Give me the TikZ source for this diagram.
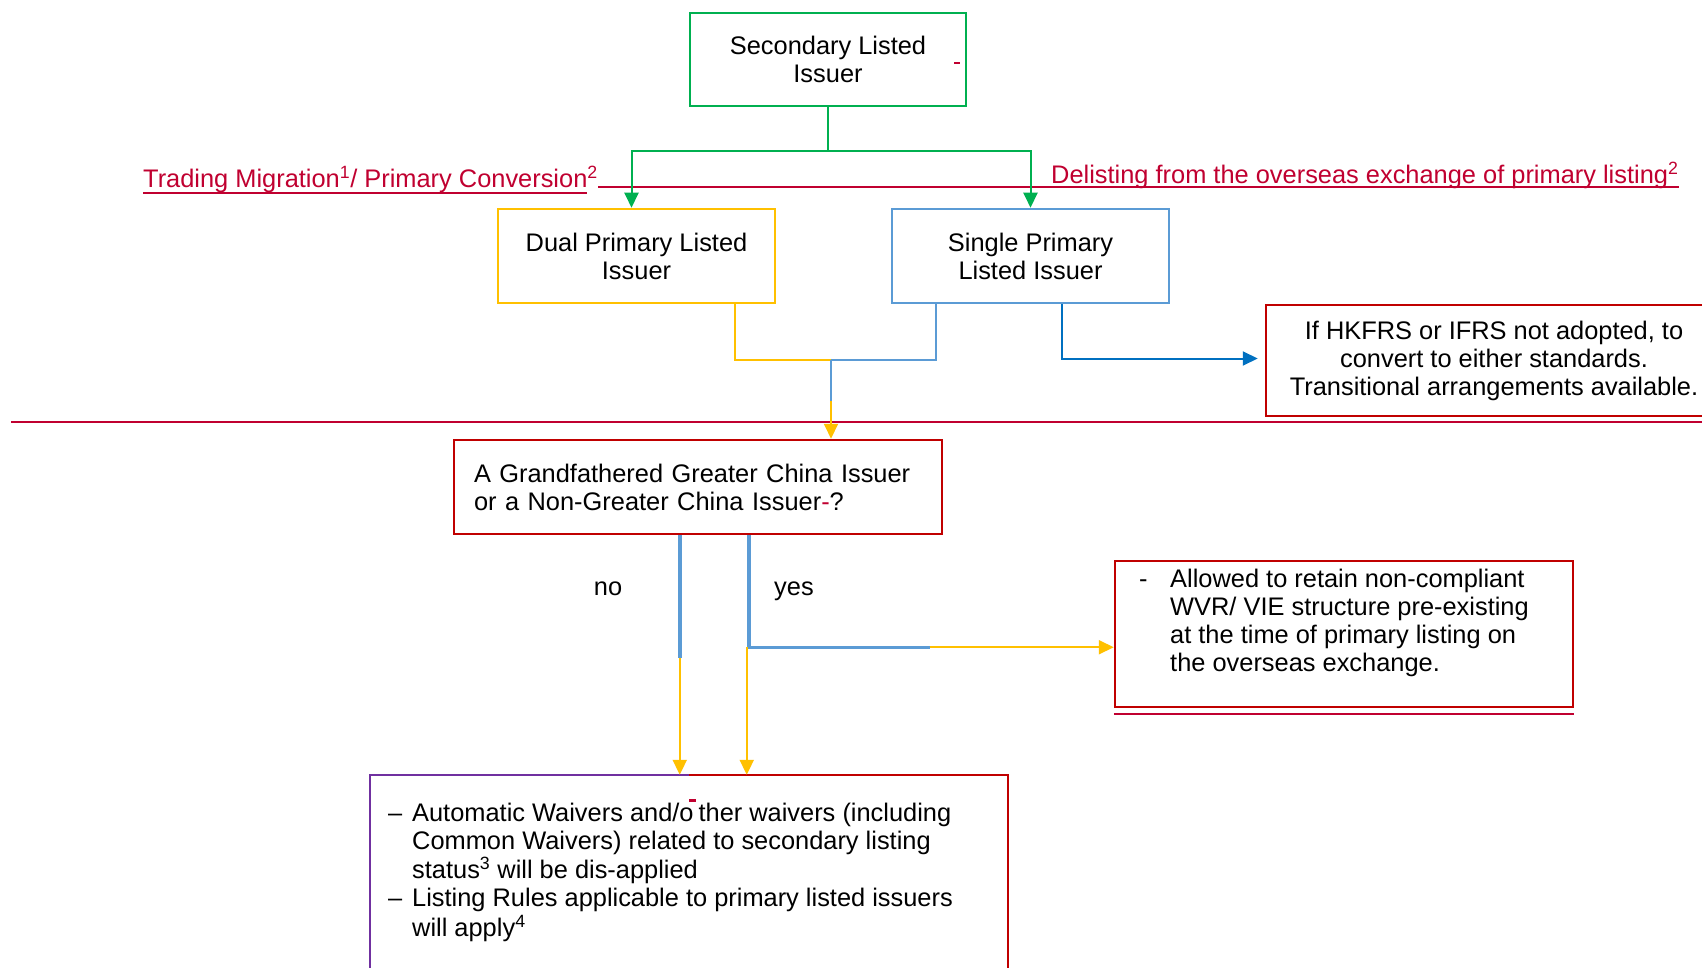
\documentclass[tikz,border=0pt]{standalone}
\usepackage{fontspec}
\setmainfont{Liberation Sans}
\usepackage{tikz}
\usetikzlibrary{positioning,arrows.meta,calc}
\definecolor{colorgreen}    {RGB}{0  ,176,80 }
\definecolor{coloryellow}   {RGB}{255,192,0  }
\definecolor{colorblue}     {RGB}{91 ,155,213}
\definecolor{colordarkblue} {RGB}{0  ,112,192}
\definecolor{colorbox}      {RGB}{192,0  ,0  }
\definecolor{colorlabel}    {RGB}{192,0  ,48 }
\definecolor{colorpurple}   {RGB}{112,48 ,160}
\newsavebox{\ulbox}
\newcommand{\redul}[1]{\sbox{\ulbox}{#1}\rlap{\rule[-5.8pt]{\wd\ulbox}{1.8pt}}\usebox{\ulbox}}

\begin{document}
\begin{tikzpicture}[
    x=1pt, y=-1pt,
    font={\fontsize{25.4}{28}\selectfont},
    box/.style={draw, line width=2.5pt, minimum width=277pt, minimum height=94pt, inner sep=0pt, align=center},
    redlabel/.style={text=colorlabel, inner sep=0pt},
    link/.style={line width=2pt},
    thick link/.style={line width=3.5pt},
    arrowed/.style={line width=2pt, -{Triangle[width=14pt,length=15pt]}},
]
    \useasboundingbox (0,0) rectangle (1702,968);
    \clip (0,0) rectangle (1702,968);

    \node[box, draw=colorgreen, minimum width=276pt, minimum height=93pt] (secondary) at (828,59.5) {Secondary Listed\\Issuer};
    \node[box, draw=coloryellow] (dual) at (636.5,256) {Dual Primary Listed\\Issuer};
    \node[box, draw=colorblue] (single) at (1030.5,256) {Single Primary\\Listed Issuer};
    \node[box, draw=colorbox, minimum width=456pt, minimum height=111pt] (hkfrs) at (1494,360.5) {If HKFRS or IFRS not adopted, to\\convert to either standards.\\Transitional arrangements available.};
    \node[box, draw=colorbox, minimum width=488pt, minimum height=94pt, text width=448pt, align=left] (grandfathered) at (698,487) {A Grandfathered Greater China Issuer\\or a Non-Greater China Issuer\textcolor{colorlabel}{-}?};
    \node[box, draw=colorbox, minimum width=458pt, minimum height=146pt] (allowed) at (1344,634) {};
    \node[anchor=base west, inner sep=0pt] (allowedtext) at (1139,587) {\begin{tabular}[t]{@{}p{31pt}@{}l@{}}
    -&Allowed to retain non-compliant\\
    &WVR/ VIE structure pre-existing\\
    &at the time of primary listing on\\
    &the overseas exchange.
    \end{tabular}};
    \node[minimum width=638pt, minimum height=210pt, inner sep=0pt] (waivers) at (689,880) {};
    \node[anchor=base west, inner sep=0pt] (waiverstext) at (388,821) {\begin{tabular}[t]{@{}p{24pt}@{}l@{}}
    \textendash&Automatic Waivers and/o\hspace{5pt}ther waivers (including\\
    &Common Waivers) related to secondary listing\\
    &status\textsuperscript{3} will be dis-applied\\
    \textendash&Listing Rules applicable to primary listed issuers\\
    &will apply\textsuperscript{4}
    \end{tabular}};

    \node[redlabel, anchor=base west] (migration) at (143,188) {\redul{Trading Migration}\redul{\textsuperscript{1}}\redul{/ Primary Conversion}\textsuperscript{2}};
    \node[redlabel, anchor=base west] (delisting) at (1051,184) {Delisting from the overseas exchange of primary listing\textsuperscript{2}};
    \node (no) at (608,589) {no};
    \node (yes) at (794,591) {yes};

    \draw[colorlabel, link] ([yshift=1pt]migration.base east) -- ([yshift=-3pt]delisting.base east);
    \draw[colorlabel, link] (11,422) -- (1702,422);
    \draw[colorlabel, link] ([yshift=-6pt]allowed.south west) -- ([yshift=-6pt]allowed.south east);
    \draw[colorlabel, link] (954,63) -- (960,63);
    \fill[colorlabel] (689,799) rectangle (696,802);
    \draw[colorpurple, line width=2.5pt] (waivers.north) -- (waivers.north west) -- (waivers.south west) -- (waivers.south);
    \draw[colorbox, line width=2.5pt] (waivers.north) -- (waivers.north east) -- (waivers.south east) -- (waivers.south);

    \draw[colorgreen, line width=1.2pt] (secondary.south) -- ++(0,44) coordinate (fork);
    \draw[colorgreen, arrowed] (fork) -| ([xshift=-5pt]dual.north);
    \draw[colorgreen, arrowed] (fork) -| (single.north);

    \coordinate (merge) at (831,360);
    \draw[coloryellow, link] ($(dual.south east)+(-41,0)$) |- (merge);
    \draw[colorblue, link] ($(single.south west)+(45,0)$) |- (merge);
    \draw[colorblue, link] (merge) -- ++(0,41) coordinate (mergelow);
    \draw[coloryellow, arrowed] (mergelow) -- (mergelow |- grandfathered.north);
    \draw[colordarkblue, arrowed] ($(single.south east)+(-108,0)$) |- ([xshift=-7pt,yshift=2pt]hkfrs.west);

    \coordinate (nofoot) at ($(grandfathered.south west)+(227,0)$);
    \draw[colorblue, thick link] (nofoot) -- ++(0,123) coordinate (nobend);
    \draw[coloryellow, arrowed] (nobend) -- (nobend |- waivers.north);
    \coordinate (yesfoot) at ($(grandfathered.south west)+(296,0)$);
    \draw[colorblue, thick link] (yesfoot) -- ++(0,112) coordinate (yescorner) -- ++(181,0) coordinate (yesmid);
    \draw[coloryellow, arrowed] (yesmid) -- (yesmid -| allowed.west);
    \draw[coloryellow, arrowed] ([xshift=-2pt]yescorner) -- ([xshift=-2pt]yescorner |- waivers.north);

\end{tikzpicture}
\end{document}
